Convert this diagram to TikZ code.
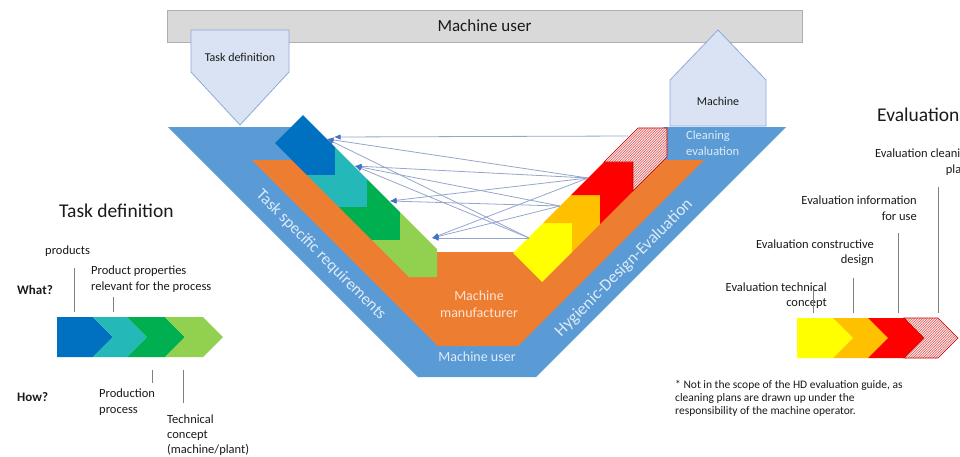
\documentclass[tikz,border=0pt]{standalone}
\usepackage{fontspec}
\setmainfont{Carlito}
\usetikzlibrary{arrows.meta,patterns}
\pgfdeclarepatternformonly{finehatch}{\pgfqpoint{-1pt}{-1pt}}{\pgfqpoint{3.5pt}{3.5pt}}{\pgfqpoint{2.5pt}{2.5pt}}{
  \pgfsetlinewidth{0.4pt}
  \pgfpathmoveto{\pgfqpoint{0pt}{0pt}}
  \pgfpathlineto{\pgfqpoint{2.6pt}{2.6pt}}
  \pgfusepath{stroke}}
\definecolor{bandblue}{HTML}{5B9BD5}
\definecolor{bandorange}{HTML}{ED7D31}
\definecolor{cdblue}{HTML}{0070C0}
\definecolor{cteal}{HTML}{25B8B8}
\definecolor{cgreen}{HTML}{00B050}
\definecolor{clgreen}{HTML}{92D050}
\definecolor{cyellow}{HTML}{FFFF00}
\definecolor{camber}{HTML}{FFC000}
\definecolor{cred}{HTML}{FF0000}
\definecolor{hatchred}{HTML}{C00000}
\definecolor{hatchline}{HTML}{E04848}
\definecolor{hatchbg}{HTML}{FFF2F2}
\definecolor{pentfill}{HTML}{DAE3F3}
\definecolor{pentline}{HTML}{8EA9DB}
\definecolor{barfill}{HTML}{D9D9D9}
\definecolor{barline}{HTML}{AFAFAF}
\definecolor{connc}{HTML}{94A6CC}
\definecolor{arrc}{HTML}{4472C4}
\definecolor{paleblue}{HTML}{DEEBF7}
\definecolor{palepeach}{HTML}{FBE5D6}
\definecolor{txt}{HTML}{1A1A1A}
\definecolor{tickc}{HTML}{808080}
\begin{document}
\begin{tikzpicture}[x=1pt,y=-1pt,
  pent/.style={fill=pentfill,draw=pentline,line width=0.8pt},
  hatchfill/.style={pattern=finehatch,pattern color=hatchline},
  conn/.style={draw=connc,line width=0.8pt,-{Latex[length=6.5pt,width=5.5pt,color=arrc]}},
  tickline/.style={draw=tickc,line width=0.7pt},
  lbl/.style={inner sep=0pt,text=txt,font=\fontsize{12.5}{15}\selectfont},
  fnote/.style={inner sep=0pt,text=txt,font=\fontsize{11.5}{13}\selectfont},
  ttl/.style={inner sep=0pt,text=txt,font=\fontsize{19.5}{23}\selectfont},
  bold/.style={inner sep=0pt,text=txt,font=\fontsize{13}{15}\selectfont\bfseries}]
\useasboundingbox (0,0) rectangle (960,456);
\clip (0,0) rectangle (960,456);
\fill[white] (0,0) rectangle (960,456);

% ---------- top bar ----------
\node[draw=barline,fill=barfill,line width=0.8pt,minimum width=635pt,minimum height=32pt,inner sep=0pt,
      text=txt,font=\fontsize{17}{20}\selectfont] (bar) at (484.5,26) {Machine user};

% ---------- V bands ----------
\path[fill=bandblue] (168,127) -- (291,127) -- (420,256) -- (535,256) -- (664,127) -- (786,127)
  -- (536,377) -- (418,377) -- cycle;
\path[fill=bandorange] (252,160) -- (320,160) -- (412,252) -- (543,252) -- (635,160) -- (704,160)
  -- (518,346) -- (438,346) -- cycle;

% ---------- pentagons ----------
\path[pent] (191,30) -- (289,30) -- (289,72) -- (240,125) -- (191,72) -- cycle;
\node[lbl,font=\fontsize{12}{14}\selectfont] (tdbox) at (240,57) {Task definition};
\path[pent] (670,126) -- (766,126) -- (766,80) -- (718,30) -- (670,80) -- cycle;
\node[lbl,font=\fontsize{12}{14}\selectfont] (mbox) at (718,101) {Machine};

% ---------- left chevron strip ----------
\fill[cdblue] (303,115) -- (335,147) -- (335,175) -- (307,175) -- (275,143) -- cycle;
\fill[cteal] (335,147) -- (367,179) -- (367,207) -- (339,207) -- (307,175) -- (335,175) -- cycle;
\fill[cgreen] (367,179) -- (400,212) -- (400,240) -- (372,240) -- (339,207) -- (367,207) -- cycle;
\fill[clgreen] (400,212) -- (437,249) -- (437,277) -- (409,277) -- (372,240) -- (400,240) -- cycle;

% ---------- right chevron strip ----------
\fill[cyellow] (513,253) -- (543,223) -- (572,223) -- (572,252) -- (542,282) -- cycle;
\fill[camber] (543,223) -- (571,195) -- (600,195) -- (600,224) -- (572,252) -- (572,223) -- cycle;
\fill[cred] (571,195) -- (604,162) -- (633,162) -- (633,191) -- (600,224) -- (600,195) -- cycle;
\fill[hatchbg] (604,162) -- (638,128) -- (667,128) -- (667,157) -- (633,191) -- (633,162) -- cycle;
\fill[hatchfill] (604,162) -- (638,128) -- (667,128) -- (667,157) -- (633,191) -- (633,162) -- cycle;
\draw[hatchred,line width=0.6pt] (604,162) -- (638,128) -- (667,128) -- (667,157) -- (633,191) -- (633,162) -- cycle;

% ---------- connectors ----------
\coordinate (hs) at (628,136);
\coordinate (rs) at (588,178);
\coordinate (os) at (560,206);
\coordinate (ys) at (529,238);
\coordinate (t1a) at (334,137);
\coordinate (t1b) at (327,139);
\coordinate (t2) at (355,166);
\coordinate (t3) at (390,201);
\coordinate (t4) at (432,238);
\draw[conn] (hs) -- (t1a);
\draw[conn] (rs) -- (t1b);
\draw[conn] (rs) -- (t2);
\draw[conn] (rs) -- (t3);
\draw[conn] (rs) -- (t4);
\draw[conn] (os) -- (t2);
\draw[conn] (os) -- (t3);
\draw[conn] (os) -- (t4);
\draw[conn] (ys) -- (t1b);
\draw[conn] (ys) -- (t2);
\draw[conn] (ys) -- (t4);

% ---------- band labels ----------
\node[inner sep=0pt,text=paleblue,font=\fontsize{16.5}{18}\selectfont,rotate=-45] (tsr) at (321,255) {Task specific requirements};
\node[inner sep=0pt,text=paleblue,font=\fontsize{17}{18}\selectfont,rotate=45] (hde) at (624,268) {Hygienic-Design-Evaluation};
\node[inner sep=0pt,text=paleblue,font=\fontsize{12.5}{15}\selectfont,anchor=base west] (cl1) at (686,139) {Cleaning};
\node[inner sep=0pt,text=paleblue,font=\fontsize{12.5}{15}\selectfont,anchor=base west] (cl2) at (686,155) {evaluation};
\node[inner sep=0pt,text=palepeach,font=\fontsize{14}{17}\selectfont] (mm1) at (479,296) {Machine};
\node[inner sep=0pt,text=palepeach,font=\fontsize{14}{17}\selectfont] (mm2) at (479,313) {manufacturer};
\node[inner sep=0pt,text=paleblue,font=\fontsize{14}{17}\selectfont] (mu) at (477,357) {Machine user};

% ---------- left: task definition ----------
\node[ttl,anchor=base west] (tdt) at (59,217) {Task definition};
\node[lbl,anchor=base west] (prod) at (45,254) {products};
\node[lbl,anchor=base west] (pp1) at (91,274) {Product properties};
\node[lbl,anchor=base west] (pp2) at (91,290) {relevant for the process};
\node[bold,anchor=base west] (what) at (17,294) {What?};
\node[bold,anchor=base west] (how) at (17,401) {How?};
\node[lbl,anchor=base west] (pr1) at (99,397) {Production};
\node[lbl,anchor=base west] (pr2) at (99,413) {process};
\node[lbl,anchor=base west] (tc1) at (167,423) {Technical};
\node[lbl,anchor=base west] (tc2) at (167,438) {concept};
\node[lbl,anchor=base west] (tc3) at (167,453) {(machine/plant)};
\fill[cdblue] (57,317) -- (93,317) -- (113,337) -- (93,357) -- (57,357) -- cycle;
\fill[cteal] (93,317) -- (127,317) -- (147,337) -- (127,357) -- (93,357) -- (113,337) -- cycle;
\fill[cgreen] (127,317) -- (165,317) -- (185,337) -- (165,357) -- (127,357) -- (147,337) -- cycle;
\fill[clgreen] (165,317) -- (203,317) -- (223,337) -- (203,357) -- (165,357) -- (185,337) -- cycle;
\draw[tickline] (74,268) -- (74,312);
\draw[tickline] (113,297) -- (113,312);
\draw[tickline] (152,370) -- (152,383);
\draw[tickline] (183,370) -- (183,403);

% ---------- right: evaluation ----------
\node[ttl,anchor=base west] (evt) at (877,121) {Evaluation};
\node[lbl,anchor=base east] (ec1) at (973,157) {Evaluation cleaning};
\node[lbl,anchor=base east] (ec2) at (973,173) {plans};
\node[lbl,anchor=base east] (ei1) at (917,204) {Evaluation information};
\node[lbl,anchor=base east] (ei2) at (917,220) {for use};
\node[lbl,anchor=base east] (ed1) at (874,248) {Evaluation constructive};
\node[lbl,anchor=base east] (ed2) at (874,263) {design};
\node[lbl,anchor=base east] (et1) at (827,291) {Evaluation technical};
\node[lbl,anchor=base east] (et2) at (827,306) {concept};
\draw[tickline] (813,290) -- (813,313);
\draw[tickline] (853,278) -- (853,313);
\draw[tickline] (898,233) -- (898,313);
\draw[tickline] (938,187) -- (938,313);
\fill[cyellow] (797,318) -- (833,318) -- (853,338) -- (833,358) -- (797,358) -- cycle;
\fill[camber] (833,318) -- (868,318) -- (888,338) -- (868,358) -- (833,358) -- (853,338) -- cycle;
\fill[cred] (868,318) -- (904,318) -- (924,338) -- (904,358) -- (868,358) -- (888,338) -- cycle;
\fill[hatchbg] (904,318) -- (938,318) -- (958,338) -- (938,358) -- (904,358) -- (924,338) -- cycle;
\fill[hatchfill] (904,318) -- (938,318) -- (958,338) -- (938,358) -- (904,358) -- (924,338) -- cycle;
\draw[hatchred,line width=0.6pt] (904,318) -- (938,318) -- (958,338) -- (938,358) -- (904,358) -- (924,338) -- cycle;
\node[fnote,anchor=base west] (fn1) at (675,388) {* Not in the scope of the HD evaluation guide, as};
\node[fnote,anchor=base west] (fn2) at (675,401) {cleaning plans are drawn up under the};
\node[fnote,anchor=base west] (fn3) at (675,414) {responsibility of the machine operator.};
\end{tikzpicture}
\end{document}
